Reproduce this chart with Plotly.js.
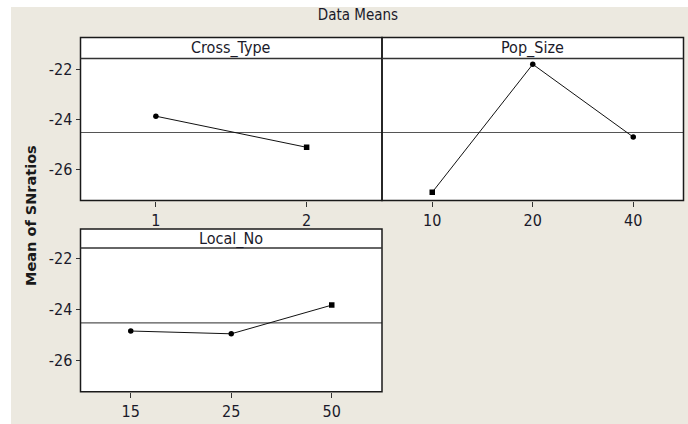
<!DOCTYPE html>
<html>
<head>
<meta charset="utf-8">
<script src="https://cdn.plot.ly/plotly-3.0.1.min.js"></script>
<style>html,body{margin:0;padding:0;background:#fff;}#chart{width:688px;height:424px;}</style>
</head>
<body>
<div id="chart"></div>
<script>
// ---- data ----
const chartTitle = "Data Means";
const yTitle = "Mean of SNratios";
const grandMean = -24.53;
const yTickVals = [-22, -24, -26];
const yTickText = ["-22", "-24", "-26"];

const crossTypeLevels = ["1", "2"];
const crossTypeMeans = [-23.88, -25.12];

const popSizeLevels = ["10", "20", "40"];
const popSizeMeans = [-26.91, -21.81, -24.71];

const localNoLevels = ["15", "25", "50"];
const localNoMeans = [-24.85, -24.96, -23.83];

const panelNames = ["Cross_Type", "Pop_Size", "Local_No"];

// ---- layout helpers (pixel -> paper) ----
const W = 688, H = 424;
const px = v => v / W;
const py = v => 1 - v / H;

const FONT = "DejaVu Sans Condensed, DejaVu Sans, sans-serif";
const bg = "#ECE9E0";

// panel geometry in pixels: [left, right, headerTop, plotTop, plotBottom]
const panels = [
  [80.5, 382, 37.5, 58.5, 200.5],
  [382, 683.5, 37.5, 58.5, 200.5],
  [80.5, 382, 229, 248, 391.7]
];

const yRange = [-27.24, -21.58];

function mkTrace(levels, vals, xa, ya, symbols) {
  return {
    x: levels, y: vals, xaxis: xa, yaxis: ya,
    type: "scatter", mode: "lines+markers",
    line: {color: "#111", width: 1},
    marker: {color: "#000", size: 5.5, symbol: symbols},
    hoverinfo: "x+y", showlegend: false
  };
}

const data = [
  mkTrace(crossTypeLevels, crossTypeMeans, "x", "y", ["circle", "square"]),
  mkTrace(popSizeLevels, popSizeMeans, "x2", "y2", ["square", "circle", "circle"]),
  mkTrace(localNoLevels, localNoMeans, "x3", "y3", ["circle", "circle", "square"])
];

function xAxis(p, n) {
  return {
    domain: [px(p[0]), px(p[1])],
    anchor: n === 1 ? "y" : "y" + n,
    type: "category",
    showgrid: false, zeroline: false, showline: false,
    ticks: "outside", ticklen: 5, tickwidth: 1, tickcolor: "#333",
    tickfont: {family: FONT, size: 16, color: "#1a1a2a"},
    fixedrange: true
  };
}
function yAxis(p, n, labels) {
  return {
    domain: [py(p[4]), py(p[3])],
    anchor: n === 1 ? "x" : "x" + n,
    range: yRange,
    tickvals: yTickVals, ticktext: yTickText,
    showticklabels: labels,
    ticks: labels ? "outside" : "",
    ticklen: 4, tickwidth: 1, tickcolor: "#333",
    showgrid: false, zeroline: false, showline: false,
    tickfont: {family: FONT, size: 16, color: "#1a1a2a"},
    fixedrange: true
  };
}

const shapes = [];
// white stripes at top/left edges
shapes.push({type: "rect", xref: "paper", yref: "paper", x0: 0, x1: px(11), y0: 0, y1: 1, fillcolor: "#fff", line: {width: 0}, layer: "below"});
shapes.push({type: "rect", xref: "paper", yref: "paper", x0: 0, x1: 1, y0: py(7), y1: 1, fillcolor: "#fff", line: {width: 0}, layer: "below"});

const annotations = [];
panels.forEach((p, i) => {
  shapes.push({type: "rect", xref: "paper", yref: "paper", x0: px(p[0]), x1: px(p[1]), y0: py(p[3]), y1: py(p[2]), fillcolor: "#fff", line: {width: 0}, layer: "below"});
  shapes.push({type: "rect", xref: "paper", yref: "paper", x0: px(p[0]), x1: px(p[1]), y0: py(p[4]), y1: py(p[2]), line: {color: "#1a1a1a", width: 1.5}, layer: "above"});
  shapes.push({type: "line", xref: "paper", yref: "paper", x0: px(p[0]), x1: px(p[1]), y0: py(p[3]), y1: py(p[3]), line: {color: "#333", width: 1.5}, layer: "above"});
  const xr = i === 0 ? "x domain" : "x" + (i + 1) + " domain";
  const yr = i === 0 ? "y" : "y" + (i + 1);
  shapes.push({type: "line", xref: xr, yref: yr, x0: 0, x1: 1, y0: grandMean, y1: grandMean, line: {color: "#555", width: 1.2}, layer: "below"});
  annotations.push({
    text: panelNames[i], xref: "paper", yref: "paper",
    x: px((p[0] + p[1]) / 2), y: py((p[2] + p[3]) / 2),
    xanchor: "center", yanchor: "middle", showarrow: false,
    font: {family: FONT, size: 16, color: "#1a1a2a"}
  });
});

annotations.push({
  text: "<b>" + yTitle + "</b>", xref: "paper", yref: "paper",
  x: px(31), y: py(216), textangle: -90,
  xanchor: "center", yanchor: "middle", showarrow: false,
  font: {family: "DejaVu Sans, sans-serif", size: 14.5, color: "#1a1a1a"}
});

const layout = {
  width: W, height: H,
  margin: {l: 0, r: 0, t: 0, b: 0},
  paper_bgcolor: bg, plot_bgcolor: "#fff",
  title: {text: chartTitle, x: px(358), y: py(15), xanchor: "center", yanchor: "middle",
          xref: "paper", yref: "paper",
          font: {family: FONT, size: 15, color: "#1a1a2a"}},
  xaxis: xAxis(panels[0], 1), yaxis: yAxis(panels[0], 1, true),
  xaxis2: xAxis(panels[1], 2), yaxis2: yAxis(panels[1], 2, false),
  xaxis3: xAxis(panels[2], 3), yaxis3: yAxis(panels[2], 3, true),
  shapes: shapes, annotations: annotations,
  showlegend: false
};
layout.xaxis.range = [-0.5, crossTypeLevels.length - 0.5];
layout.xaxis2.range = [-0.5, popSizeLevels.length - 0.5];
layout.xaxis3.range = [-0.5, localNoLevels.length - 0.5];

Plotly.newPlot("chart", data, layout, {displayModeBar: false, staticPlot: true});
</script>
</body>
</html>
